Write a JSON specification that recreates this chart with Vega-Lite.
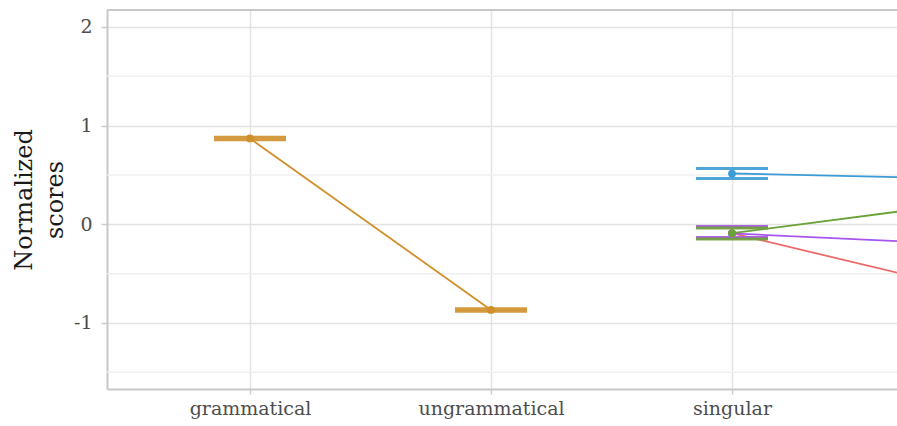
{
  "$schema": "https://vega.github.io/schema/vega-lite/v6.json",
  "width": 790,
  "height": 379,
  "autosize": {"type": "none"},
  "padding": {"left": 107, "top": 10, "right": 0, "bottom": 37},
  "background": "white",
  "config": {"view": {"stroke": null}, "font": "DejaVu Serif"},
  "datasets": {
    "scores": [
      {"series": "grammaticality", "condition": "grammatical", "mean": 0.87, "lo": 0.857, "hi": 0.883},
      {"series": "grammaticality", "condition": "ungrammatical", "mean": -0.868, "lo": -0.881, "hi": -0.855},
      {"series": "number-blue", "condition": "singular", "mean": 0.515, "lo": 0.465, "hi": 0.565},
      {"series": "number-blue", "condition": "plural", "mean": 0.46, "lo": 0.41, "hi": 0.51},
      {"series": "number-red", "condition": "singular", "mean": -0.09, "lo": -0.141, "hi": -0.03},
      {"series": "number-red", "condition": "plural", "mean": -0.674, "lo": -0.73, "hi": -0.62},
      {"series": "number-purple", "condition": "singular", "mean": -0.092, "lo": -0.133, "hi": -0.022},
      {"series": "number-purple", "condition": "plural", "mean": -0.205, "lo": -0.26, "hi": -0.15},
      {"series": "number-green", "condition": "singular", "mean": -0.09, "lo": -0.149, "hi": -0.038},
      {"series": "number-green", "condition": "plural", "mean": 0.227, "lo": 0.17, "hi": 0.28}
    ],
    "guides": [
      {"level": -1.5, "kind": "minor"}, {"level": -0.5, "kind": "minor"}, {"level": 0.5, "kind": "minor"}, {"level": 1.5, "kind": "minor"},
      {"level": 2.172, "kind": "frame"}
    ]
  },
  "layer": [
    {
      "data": {"name": "guides"},
      "mark": {"type": "rule"},
      "encoding": {
        "y": {"field": "level", "type": "quantitative", "scale": {"domain": [-1.669, 2.172], "nice": false, "zero": false}},
        "stroke": {"field": "kind", "type": "nominal", "scale": {"domain": ["minor", "frame"], "range": ["#efefef", "#c8c8c8"]}, "legend": null},
        "strokeWidth": {"field": "kind", "type": "nominal", "scale": {"domain": ["minor", "frame"], "range": [1.5, 2]}, "legend": null}
      }
    },
    {
      "data": {"name": "scores"},
      "mark": {"type": "line", "strokeWidth": 1.8},
      "encoding": {
        "x": {
          "field": "condition",
          "type": "nominal",
          "scale": {"type": "point", "domain": ["grammatical", "ungrammatical", "singular", "plural"], "range": [0, 1009], "padding": 0.5934},
          "axis": {
            "orient": "bottom",
            "title": null,
            "values": ["grammatical", "ungrammatical", "singular"],
            "labelAngle": 0,
            "labelFont": "DejaVu Serif",
            "labelFontSize": 19,
            "labelColor": "#4d4d4d",
            "labelPadding": 5,
            "tickSize": 5,
            "tickColor": "#cccccc",
            "tickWidth": 1.5,
            "grid": true,
            "gridColor": "#e4e4e4",
            "gridWidth": 1.5,
            "domain": true,
            "domainColor": "#c8c8c8",
            "domainWidth": 2
          }
        },
        "y": {
          "field": "mean",
          "type": "quantitative",
          "scale": {"domain": [-1.669, 2.172], "nice": false, "zero": false},
          "axis": {
            "orient": "left",
            "title": ["Normalized", "scores"],
            "titleFont": "DejaVu Serif",
            "titleFontSize": 24,
            "titleFontWeight": "normal",
            "titleColor": "#1a1a1a",
            "titleLineHeight": 31,
            "titlePadding": 6,
            "values": [-1, 0, 1, 2],
            "labelExpr": "'' + datum.value",
            "labelFont": "DejaVu Serif",
            "labelFontSize": 19,
            "labelColor": "#4d4d4d",
            "labelPadding": 9,
            "tickSize": 6,
            "tickColor": "#cccccc",
            "tickWidth": 1.5,
            "grid": true,
            "gridColor": "#e2e2e2",
            "gridWidth": 1.5,
            "domain": true,
            "domainColor": "#c8c8c8",
            "domainWidth": 2
          }
        },
        "color": {
          "field": "series",
          "type": "nominal",
          "scale": {"domain": ["grammaticality", "number-blue", "number-red", "number-purple", "number-green"], "range": ["#D08F2A", "#3C9BD6", "#EE6A6A", "#A855F0", "#6AA33A"]},
          "legend": null
        }
      }
    },
    {
      "data": {"name": "scores"},
      "mark": {"type": "tick", "thickness": 3, "size": 72, "opacity": 0.9},
      "encoding": {
        "x": {"field": "condition", "type": "nominal"},
        "y": {"field": "lo", "type": "quantitative"},
        "color": {"field": "series", "type": "nominal", "legend": null}
      }
    },
    {
      "data": {"name": "scores"},
      "mark": {"type": "tick", "thickness": 3, "size": 72, "opacity": 0.9},
      "encoding": {
        "x": {"field": "condition", "type": "nominal"},
        "y": {"field": "hi", "type": "quantitative"},
        "color": {"field": "series", "type": "nominal", "legend": null}
      }
    },
    {
      "data": {"name": "scores"},
      "mark": {"type": "circle", "size": 60, "opacity": 1},
      "encoding": {
        "x": {"field": "condition", "type": "nominal"},
        "y": {"field": "mean", "type": "quantitative"},
        "color": {"field": "series", "type": "nominal", "legend": null}
      }
    }
  ]
}
